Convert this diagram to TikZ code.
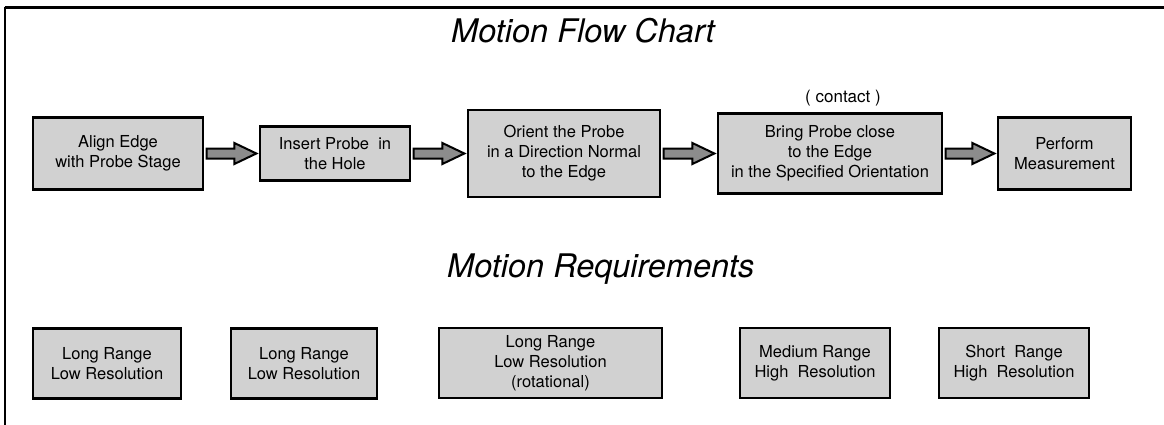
\documentclass[tikz,border=0pt]{standalone}
\usepackage{fontspec}
\setmainfont{TeX Gyre Heros}
\usetikzlibrary{calc}
\tikzset{
  box/.style={draw=black, line width=2.3pt, fill=black!18, align=center, inner sep=2pt,
    font=\fontsize{16.5}{20}\selectfont},
  blockarrow/.style={draw=black, line width=2pt, fill=black!45, line join=miter},
  title/.style={font=\fontsize{32.5}{36}\selectfont\itshape, anchor=base west, inner sep=0pt},
}
\newcommand\blkarr[2]{%
  \draw[blockarrow] let \p1=($(#1.east)+(2.5,0)$), \p2=($(#2.west)+(-2.5,0)$) in
    (\x1,\y1+5pt) -- (\x2-22pt,\y1+5pt) -- (\x2-22pt,\y1+10.5pt) -- (\x2,\y1)
    -- (\x2-22pt,\y1-10.5pt) -- (\x2-22pt,\y1-5pt) -- (\x1,\y1-5pt) -- cycle;}
\begin{document}
\begin{tikzpicture}[x=1pt,y=-1pt]
\useasboundingbox (0,0) rectangle (1164,425);
% frame
\draw[line width=2.8pt] (4.5,7.5) -- (1164,7.5);
\draw[line width=1.6pt] (5,7.5) -- (5,425);
% titles
\node[title] (t1) at (451,43) {Motion Flow Chart};
\node[title] (t2) at (447,277) {Motion Requirements};
% flow chart boxes
\node[box, minimum width=170, minimum height=72] (b1) at (118,153.5) {Align Edge\\with Probe Stage};
\node[box, minimum width=150, minimum height=54] (b2) at (335,153.5) {Insert Probe\ \ in\\the Hole};
\node[box, minimum width=192, minimum height=87] (b3) at (564,153.5) {Orient the Probe\\in a Direction Normal\\to the Edge};
\node[box, minimum width=224, minimum height=80] (b4) at (830,153.5) {Bring Probe close\\to the Edge\\in the Specified Orientation};
\node[box, minimum width=133, minimum height=72] (b5) at (1064.5,153.5) {Perform\\Measurement};
\node[font=\fontsize{17}{20}\selectfont, anchor=base] (c) at (843,103) {(\ contact\ )};
\blkarr{b1}{b2}
\blkarr{b2}{b3}
\blkarr{b3}{b4}
\blkarr{b4}{b5}
% requirements
\node[box, minimum width=148, minimum height=70] (r1) at (107,363.5) {Long Range\\Low Resolution};
\node[box, minimum width=146, minimum height=70] (r2) at (304,363.5) {Long Range\\Low Resolution};
\node[box, minimum width=223, minimum height=70] (r3) at (550.5,363) {Long Range\\Low Resolution\\(rotational)};
\node[box, minimum width=150, minimum height=70] (r4) at (815,363) {Medium Range\\High\ \ Resolution};
\node[box, minimum width=150, minimum height=70] (r5) at (1014,363) {Short\ \ Range\\High\ \ Resolution};
\end{tikzpicture}
\end{document}
